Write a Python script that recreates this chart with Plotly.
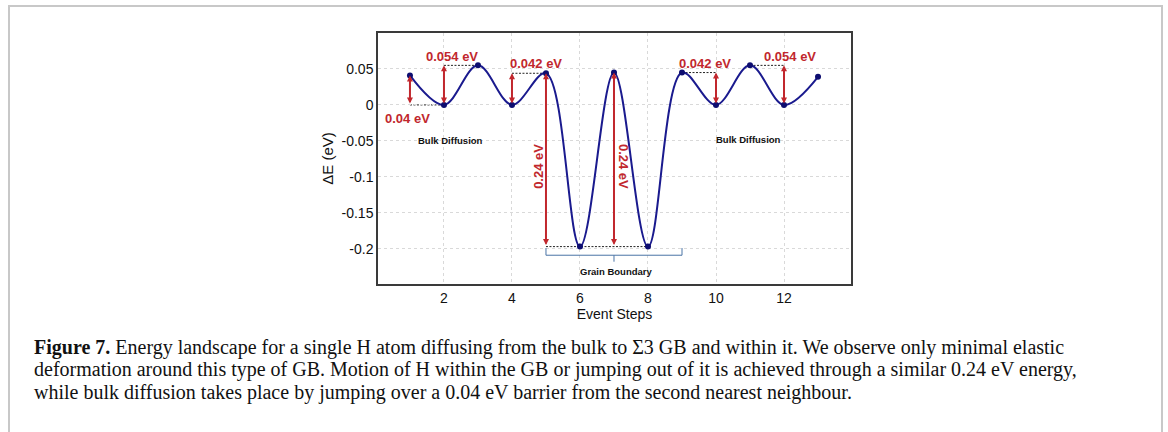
import plotly.graph_objects as go

# ---- data ----
steps = [1, 2, 3, 4, 5, 6, 7, 8, 9, 10, 11, 12, 13]
energy = [0.041, 0.0, 0.055, 0.0, 0.044, -0.197, 0.045, -0.197, 0.045, 0.0, 0.055, 0.0, 0.039]

y_tickvals = [-0.2, -0.15, -0.1, -0.05, 0, 0.05]
y_ticktext = ["-0.2", "-0.15", "-0.1", "-0.05", "0", "0.05"]
x_tickvals = [2, 4, 6, 8, 10, 12]

# barrier arrows: x, bottom, top
arrow_x = [1, 2, 4, 5, 7, 10, 12]
arrow_lo = [0.0, 0.0, 0.0, -0.197, -0.197, 0.0, 0.0]
arrow_hi = [0.041, 0.055, 0.044, 0.044, 0.045, 0.045, 0.055]

# dashed reference lines: x0, x1, y
dash_x0 = [1, 2, 4, 5, 9, 11]
dash_x1 = [2, 3, 5, 8, 10, 12]
dash_y = [0.0, 0.055, 0.044, -0.197, 0.045, 0.055]

# barrier labels
lab_text = ["0.054 eV", "0.042 eV", "0.04 eV", "0.042 eV", "0.054 eV"]
lab_x = [2.24, 4.7, 0.94, 9.68, 12.18]
lab_y = [0.068, 0.058, -0.0185, 0.058, 0.068]

vlab_text = ["0.24 eV", "0.24 eV"]
vlab_x = [4.76, 7.26]
vlab_y = [-0.085, -0.086]
vlab_angle = [-90, 90]

region_text = ["Bulk Diffusion", "Bulk Diffusion", "Grain Boundary"]
region_x = [2.2, 10.97, 7.06]
region_y = [-0.05, -0.048, -0.231]

gb_start, gb_end, gb_mid = 5, 9, 7
gb_level, gb_tip, gb_ends = -0.209, -0.218, -0.199

caption = [
    "<b>Figure 7.</b> Energy landscape for a single H atom diffusing from the bulk to \u03a33 GB and within it. We observe only minimal elastic",
    "deformation around this type of GB. Motion of H within the GB or jumping out of it is achieved through a similar 0.24 eV energy,",
    "while bulk diffusion takes place by jumping over a 0.04 eV barrier from the second nearest neighbour.",
]

# ---- layout geometry ----
W, H = 1168, 432
L, R, T, B = 378, 851, 33, 284


def px(xp):
    return (xp - L) / (R - L)


def py(yp):
    return (B - yp) / (B - T)


RED = "#c1272d"
NAVY = "#1a1a8e"
SANS = "Liberation Sans, Arial"

fig = go.Figure()
fig.add_trace(go.Scatter(
    x=steps, y=energy, mode="lines+markers",
    line=dict(color=NAVY, width=2, shape="spline", smoothing=1.0),
    marker=dict(color="#0d0d70", size=6),
    showlegend=False, hoverinfo="skip",
))

shapes = []
for x0, x1, yv in zip(dash_x0, dash_x1, dash_y):
    shapes.append(dict(type="line", xref="x", yref="y", x0=x0, x1=x1, y0=yv, y1=yv,
                       line=dict(color="#222222", width=1, dash="2px,1.5px"), layer="below"))

shapes.append(dict(
    type="path", xref="x", yref="y",
    path=(f"M {gb_start},{gb_ends} L {gb_start},{gb_level} L {gb_end},{gb_level} L {gb_end},{gb_ends} "
          f"M {gb_mid},{gb_level} L {gb_mid},{gb_tip}"),
    line=dict(color="#4a74a6", width=1),
))

# figure border
shapes.append(dict(type="rect", xref="paper", yref="paper",
                   x0=px(9), x1=px(1162), y0=py(470), y1=py(6),
                   line=dict(color="#c8c8c8", width=2)))

annotations = []
for x, lo, hi in zip(arrow_x, arrow_lo, arrow_hi):
    annotations.append(dict(
        x=x, y=hi, ax=x, ay=lo, xref="x", yref="y", axref="x", ayref="y",
        text="", showarrow=True, arrowhead=2, startarrowhead=2, arrowside="end+start",
        arrowsize=0.6, startarrowsize=0.6, arrowwidth=2, arrowcolor=RED,
    ))

for t, x, y in zip(lab_text, lab_x, lab_y):
    annotations.append(dict(x=x, y=y, xref="x", yref="y", text=f"<b>{t}</b>", showarrow=False,
                            font=dict(family=SANS, size=13, color=RED)))

for t, x, y, a in zip(vlab_text, vlab_x, vlab_y, vlab_angle):
    annotations.append(dict(x=x, y=y, xref="x", yref="y", text=f"<b>{t}</b>", showarrow=False,
                            textangle=a, font=dict(family=SANS, size=13, color=RED)))

for t, x, y in zip(region_text, region_x, region_y):
    annotations.append(dict(x=x, y=y, xref="x", yref="y", text=f"<b>{t}</b>", showarrow=False,
                            font=dict(family=SANS, size=9.5, color="#111111")))

for i, line in enumerate(caption):
    annotations.append(dict(x=px(32), y=py(347 + 22.5 * i), xref="paper", yref="paper",
                            xanchor="left", yanchor="middle", text=line, showarrow=False, align="left",
                            font=dict(family="Liberation Serif, Times New Roman, serif", size=20,
                                      color="#111111")))

axis_common = dict(
    showline=True, linecolor="#3a3a3a", linewidth=1.5, mirror=True,
    showgrid=True, gridcolor="#d9d9d9", griddash="dot", gridwidth=1,
    zeroline=False, ticks="",
    tickfont=dict(family=SANS, size=14, color="#111111"),
)

fig.update_layout(
    width=W, height=H,
    margin=dict(l=L, r=W - R, t=T, b=H - B),
    paper_bgcolor="white", plot_bgcolor="white",
    xaxis=dict(range=[0.06, 13.97], tickvals=x_tickvals,
               title=dict(text="Event Steps", standoff=2,
                          font=dict(family=SANS, size=14, color="#111111")),
               **axis_common),
    yaxis=dict(range=[-0.249, 0.1], tickvals=y_tickvals, ticktext=y_ticktext,
               title=dict(text="\u0394E (eV)", standoff=4,
                          font=dict(family=SANS, size=15, color="#111111")),
               **axis_common),
    shapes=shapes, annotations=annotations,
)

fig.write_html("out.html", config={"displayModeBar": False},
               post_script="document.body.style.margin='0';")
